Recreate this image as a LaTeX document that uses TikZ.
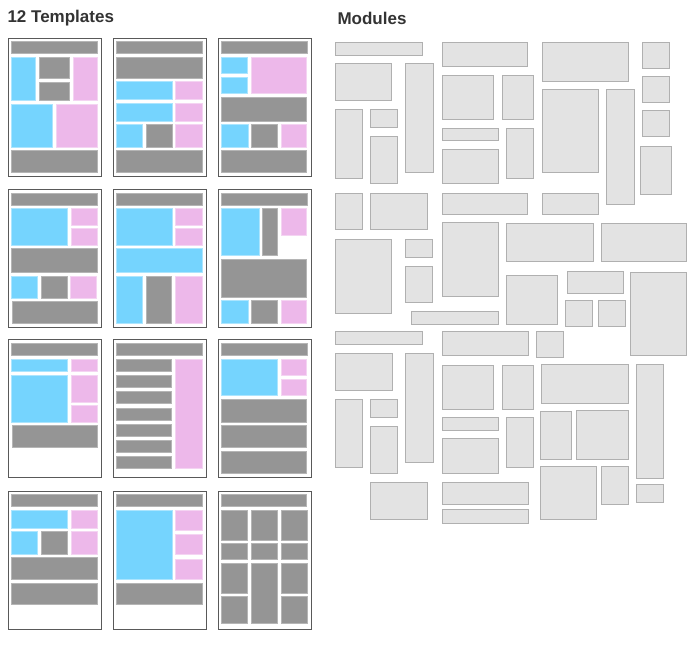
\documentclass[tikz,border=0pt]{standalone}
\usepackage{fontspec}
\setsansfont{Liberation Sans}
\definecolor{tgray}{HTML}{959595}
\definecolor{tblue}{HTML}{75D4FE}
\definecolor{tpink}{HTML}{EDB8EA}
\definecolor{mfill}{HTML}{E3E3E3}
\definecolor{mline}{HTML}{B0B0B0}
\tikzset{
  gr/.style={fill=tgray,draw=tgray!70!white,line width=0.5pt},
  bl/.style={fill=tblue,draw=tblue!60!white,line width=0.5pt},
  pk/.style={fill=tpink,draw=tpink!60!white,line width=0.5pt},
  frame/.style={draw=black!65,line width=0.9pt,fill=white},
  module/.style={fill=mfill,draw=mline,line width=0.7pt},
  title/.style={anchor=west,font=\sffamily\bfseries\fontsize{17}{20}\selectfont,text=black!80}
}
% template page with its blocks, in pixels from its top left corner
\newcommand\tpl[3]{%
  \begin{scope}[shift={(#1,#2)}]
    \draw[frame] (0,0) rectangle (93,138);
    \foreach \s/\a/\b/\c/\d in {#3}
      \path[\s] (\a,\b) rectangle (\c,\d);
  \end{scope}}
\begin{document}
\begin{tikzpicture}[x=1pt,y=-1pt]
  \useasboundingbox (0,0) rectangle (700,646);
  \node[title] (tplhead) at (4,18) {12 Templates};
  \node[title] (modhead) at (334,18) {Modules};

  % templates, row 1
  \tpl{8}{38}{gr/3.3/3.3/89.3/15.7, bl/3.3/19/27.7/62.7, gr/31/19/61.7/40.3, gr/31/44/61.7/62.7,
    pk/65/19/89.3/62.7, bl/3.3/66/44.3/109.3, pk/48.3/66/89.3/109.3, gr/3.3/112.7/89.3/134}
  \tpl{113}{38}{gr/3/3.3/89/15.7, gr/3/19/89/40.3, bl/3/43.3/59.3/61.7, pk/62.7/43.3/89/61.7,
    bl/3/65/59.3/83, pk/62.7/65/89/83, bl/3/86.7/29.3/109.3, gr/33/86.7/59.3/109.3,
    pk/62.7/86.7/89/109.3, gr/3/112.7/89/134}
  \tpl{218}{38}{gr/3/3.3/89/15.7, bl/3/19/29/35.3, bl/3/39/29/55.7, pk/33/19/88.7/55.7,
    gr/3/59.7/88.7/83, bl/3.7/86.7/30.3/109.3, gr/33.7/86.7/59.7/109.3, pk/63/86.7/88.7/109.3,
    gr/3/112.7/88.7/134}
  % row 2
  \tpl{8}{189}{gr/3.3/4/89.3/16.3, bl/3.3/19.7/59.7/56.3, pk/63/19.7/89.3/36.3, pk/63/39.7/89.3/56.3,
    gr/3.3/59.7/89.3/83, bl/3.3/87/29.3/109, gr/33/87/59/109, pk/62.3/87/88.7/109,
    gr/4/112.3/89.3/134.7}
  \tpl{113}{189}{gr/3/4/89/16.3, bl/3/19.7/59.3/56.3, pk/62.7/19.7/89/36.3, pk/62.7/39.7/89/56.3,
    bl/3/59.7/89/83, bl/3/87/29.3/134, gr/33/87/58.7/134, pk/62.7/87/89/134}
  \tpl{218}{189}{gr/3/4/89/16.3, bl/3.7/19.7/41.3/66.3, gr/44.7/19.7/59.7/66.3, pk/63/19.7/88.7/46.3,
    gr/3.7/70/88.7/108, bl/3.7/111.3/30.3/134, gr/33.7/111.3/59.7/134, pk/63/111.3/88.7/134}
  % row 3
  \tpl{8}{339}{gr/3.3/4/89.3/16.3, bl/3.3/20/59/32.7, pk/63/20/89.3/32.7, bl/3.3/36.3/59/83,
    pk/63/36.3/89.3/63, pk/63/66.7/89.3/83, gr/4/86.7/89.3/108}
  \tpl{113}{339}{gr/3/4/89/16.3, gr/3/20/58.7/32.7, gr/3/36.3/58.7/48.7, gr/3/52.7/58.7/64.7,
    gr/3/69/58.7/81, gr/3/85/58.7/97.3, gr/3/101/58.7/113.3, gr/3/117.3/58.7/129.3,
    pk/62/20/89/129.3}
  \tpl{218}{339}{gr/3/4/89/16.3, bl/3/20/59/56.7, pk/63/20/88.7/36.3, pk/63/40.7/88.7/56.7,
    gr/3/60.7/88.7/83, gr/3/86.3/88.7/108.7, gr/3/112/88.7/134.3}
  % row 4
  \tpl{8}{491}{gr/3.3/3.3/89.3/15.7, bl/3.3/19.3/59.7/37.7, pk/63/19.3/89.3/37.7, bl/3.3/40.7/29.3/63.3,
    gr/33/40.7/59.7/63.3, pk/63/40.7/89.3/63.3, gr/3.3/66.7/89.3/88, gr/3.3/92/89.3/113.3}
  \tpl{113}{491}{gr/3/3.3/89/15.7, bl/3/19.3/59.3/88, pk/62.7/19.3/89/39, pk/62.7/43.7/89/63,
    pk/62.7/68/89/88, gr/3/92/89/113.3}
  \tpl{218}{491}{gr/3/3.3/88.7/15.7, gr/3/19.3/29.3/49, gr/33/19.3/59.7/49, gr/63/19.3/89/49,
    gr/3/52.7/29.3/68.7, gr/33/52.7/59.7/68.7, gr/63/52.7/89/68.7, gr/3/72.3/29.3/102.3,
    gr/3/105.7/29.3/132.3, gr/33/72.3/59.7/132.3, gr/63/72.3/89/102.3, gr/63/105.7/89/132.3}

  % modules
  \foreach \a/\b/\c/\d in {335/42/422/55, 442/42/527/66, 542/42/628/81, 642/42/669/68,
      335/63/391/100, 405/63/433/172, 442/75/493/119, 502/75/533/119, 542/89/598/172,
      606/89/634/204, 642/76/669/102, 335/109/362/178, 370/109/397/127, 370/136/397/183,
      442/128/498/140, 506/128/533/178, 442/149/498/183, 642/110/669/136, 640/146/671/194,
      335/193/362/229, 370/193/427/229, 442/193/527/214, 542/193/598/214, 335/239/391/313,
      405/239/432/257, 405/266/432/302, 442/222/498/296, 506/223/593/261, 601/223/686/261,
      506/275/557/324, 567/271/623/293, 565/300/592/326, 598/300/625/326, 630/272/686/355,
      411/311/498/324, 335/331/422/344, 442/331/528/355, 536/331/563/357, 335/353/392/390,
      405/353/433/462, 442/365/493/409, 502/365/533/409, 541/364/628/403, 636/364/663/478,
      335/399/362/467, 370/399/397/417, 370/426/397/473, 442/417/498/430, 506/417/533/467,
      442/438/498/473, 540/411/571/459, 576/410/628/459, 540/466/596/519, 601/466/628/504,
      636/484/663/502, 370/482/427/519, 442/482/528/504, 442/509/528/523}
    \draw[module] (\a,\b) rectangle (\c,\d);
\end{tikzpicture}
\end{document}
